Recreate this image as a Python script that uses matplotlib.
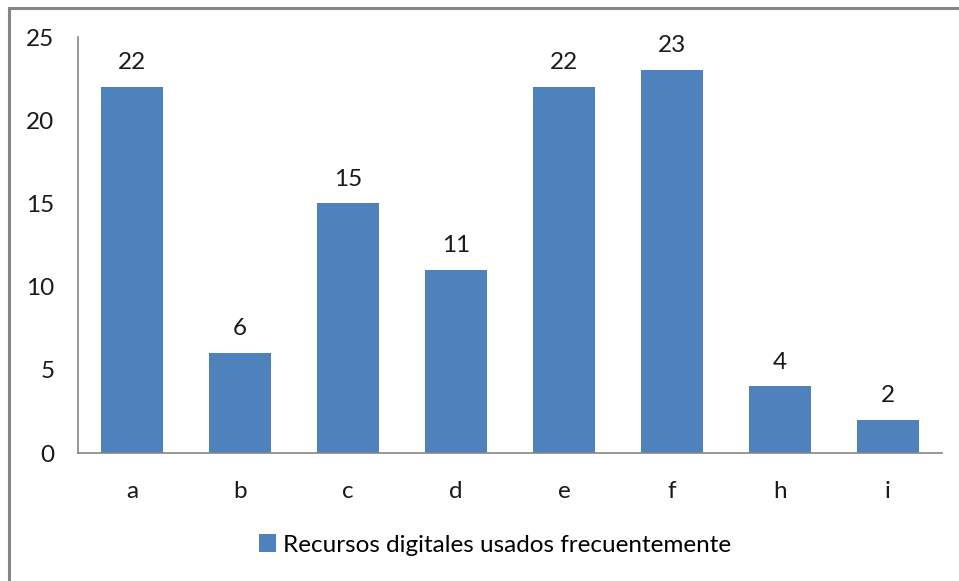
import matplotlib.pyplot as plt
from matplotlib.patches import Rectangle

categorias = ['a', 'b', 'c', 'd', 'e', 'f', 'h', 'i']
valores = [22, 6, 15, 11, 22, 23, 4, 2]
serie = 'Recursos digitales usados frecuentemente'
yticks = [0, 5, 10, 15, 20, 25]

plt.rcParams['font.family'] = ['Lato', 'DejaVu Sans']
color_barra = '#4F81BD'
gris = '#868686'
fs = 17.5

fig = plt.figure(figsize=(9.59, 5.81), dpi=100)
ax = fig.add_axes([78/959, 1 - 453/581, 864/959, 416/581])

x = range(len(categorias))
barras = ax.bar(x, valores, width=0.574, color=color_barra, label=serie)
for xi, v in zip(x, valores):
    ax.annotate(str(v), (xi, v), xytext=(0, 10), textcoords='offset points',
                ha='center', va='bottom', fontsize=fs, color='#1a1a1a')

ax.set_xlim(-0.5, len(categorias) - 0.5)
ax.set_ylim(0, 25)
ax.set_yticks(yticks)
ax.set_xticks(list(x))
ax.set_xticklabels(categorias)
ax.tick_params(axis='both', length=0, labelsize=fs, colors='#1a1a1a')
ax.tick_params(axis='y', pad=17)
ax.tick_params(axis='x', pad=20)
for s in ['top', 'right']:
    ax.spines[s].set_visible(False)
for s in ['left', 'bottom']:
    ax.spines[s].set_color(gris)
    ax.spines[s].set_linewidth(1.2)

fig.legend(handles=[barras], loc='center', bbox_to_anchor=(495/959, 1 - 545/581),
           frameon=False, fontsize=fs, handlelength=0.7, handleheight=0.7,
           handletextpad=0.3)

# marco exterior del grafico
fig.patches.append(Rectangle((9/959, -0.1), 1.2, 1 - 7.5/581 + 0.1,
                             transform=fig.transFigure, fill=False,
                             edgecolor=gris, linewidth=2.2))

fig.savefig('out.png', dpi=100)
